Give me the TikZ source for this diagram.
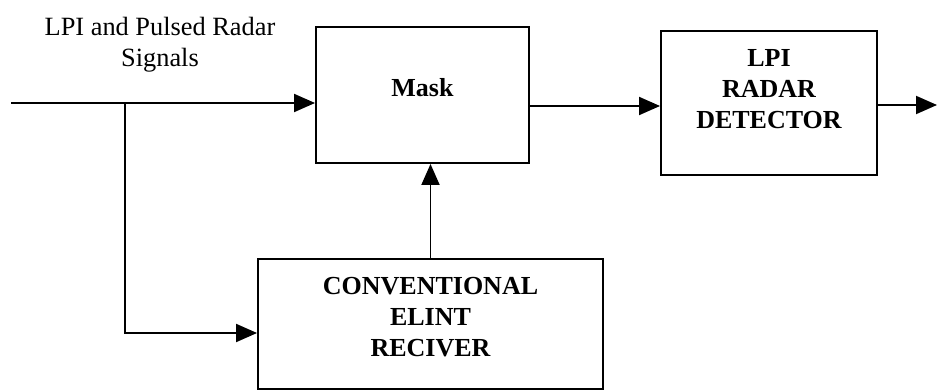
\documentclass[tikz,border=0pt]{standalone}
\usepackage{fontspec}
\setmainfont{Liberation Serif}
\usetikzlibrary{positioning, arrows.meta, calc}

\begin{document}
\begin{tikzpicture}[
	blk/.style={draw, line width=1.1pt, align=center, inner sep=0pt, font=\fontsize{14.8}{17.6}\selectfont\bfseries},
	sig/.style={line width=1.1pt, -{Triangle[length=0.42cm, width=0.36cm]}}]
	\useasboundingbox (0,0) rectangle (18.74,7.82);
	\node[blk, minimum width=4.26cm, minimum height=2.72cm, text depth=0.32cm] (mask) at (8.45,5.92) {Mask};
	\node[blk, minimum width=4.32cm, minimum height=2.88cm, text depth=0.56cm] (det) at (15.38,5.76) {LPI\\ RADAR\\ DETECTOR};
	\node[blk, minimum width=6.9cm, minimum height=2.6cm, text depth=0.30cm] (elint) at (8.61,1.34) {CONVENTIONAL\\ ELINT\\ RECIVER};
	\node[align=center, font=\fontsize{15}{17.5}\selectfont] (title) at (3.2,6.92) {LPI and Pulsed Radar\\ Signals};
	\coordinate (in) at (0.22,5.76);
	\coordinate (tap) at (2.5,5.76);
	\coordinate (out) at (18.74,5.72);
	\draw[sig] (in) -- (in -| mask.west);
	\draw[sig] (tap) |- ([yshift=-0.18cm]elint.west);
	\draw[sig] (elint.north) -- (elint.north |- mask.south);
	\draw[sig] ([yshift=-0.22cm]mask.east) -- ([yshift=-0.22cm]mask.east -| det.west);
	\draw[sig] (det.east |- out) -- (out);
\end{tikzpicture}
\end{document}
